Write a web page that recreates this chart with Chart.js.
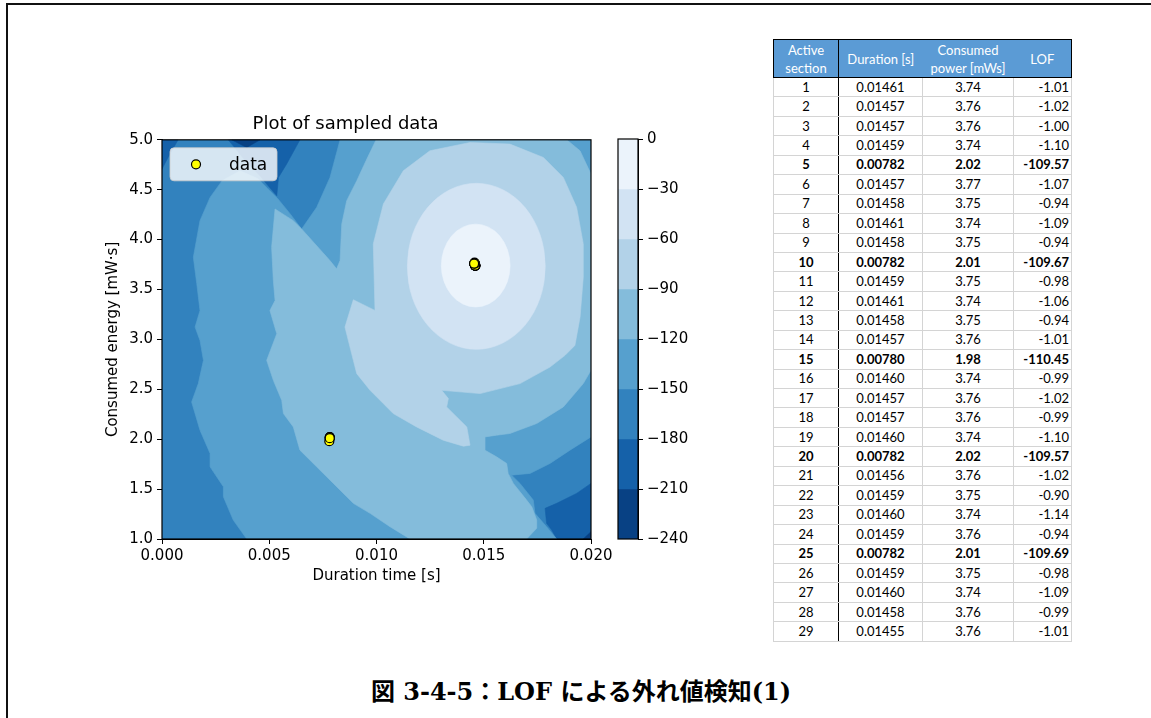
<!DOCTYPE html>
<html>
<head>
<meta charset="utf-8">
<script src="https://cdn.jsdelivr.net/npm/chart.js@4.4.1/dist/chart.umd.min.js"></script>
<style>
  body { margin: 0; width: 1151px; height: 718px; overflow: hidden; background: #fff; position: relative; }
  #frame { position: absolute; left: 6px; top: 3px; width: 1200px; height: 800px; border-left: 2px solid #111; border-top: 2px solid #111; }
  #mainChart { position: absolute; left: 0; top: 0; }
  #barChart { position: absolute; left: 600px; top: 100px; }
  #lofTable { position: absolute; left: 773px; top: 39px; border-collapse: collapse; border: 1px solid #000;
              font-family: "Lato", "Open Sans", sans-serif; font-size: 13px; color: #000; table-layout: fixed; }
  #lofTable th { background: #5b9bd5; color: #fff; font-weight: normal; line-height: 18px; height: 37px; padding: 0;
                 border-bottom: 1px solid #000; text-align: center; }
  #lofTable td { height: 18.45px; padding: 0 3px; border: 1px solid #d4d4d4; text-align: center; line-height: 17px; }
  #lofTable td.lof { text-align: right; padding-right: 2px; }
  #lofTable .sep { border-right: 1.5px solid #000 !important; }
  #lofTable tr.outlier td { font-weight: bold; }
  #caption { position: absolute; left: 281px; width: 600px; top: 672px; text-align: center;
             font-family: "DejaVu Serif", "Noto Sans CJK JP", serif; font-weight: bold; font-size: 24px; color: #000; }
</style>
</head>
<body>
<div id="frame"></div>
<canvas id="mainChart" width="620" height="600"></canvas>
<canvas id="barChart" width="120" height="460"></canvas>
<table id="lofTable"></table>
<div id="caption">図 3-4-5：LOF による外れ値検知(1)</div>

<script>
// sampled data (table on the right)
const sections = [1, 2, 3, 4, 5, 6, 7, 8, 9, 10, 11, 12, 13, 14, 15, 16, 17, 18, 19, 20, 21, 22, 23, 24, 25, 26, 27, 28, 29];
const durations = [0.01461, 0.01457, 0.01457, 0.01459, 0.00782, 0.01457, 0.01458, 0.01461, 0.01458, 0.00782,
                   0.01459, 0.01461, 0.01458, 0.01457, 0.00780, 0.01460, 0.01457, 0.01457, 0.01460, 0.00782,
                   0.01456, 0.01459, 0.01460, 0.01459, 0.00782, 0.01459, 0.01460, 0.01458, 0.01455];
const powers = [3.74, 3.76, 3.76, 3.74, 2.02, 3.77, 3.75, 3.74, 3.75, 2.01,
                3.75, 3.74, 3.75, 3.76, 1.98, 3.74, 3.76, 3.76, 3.74, 2.02,
                3.76, 3.75, 3.74, 3.76, 2.01, 3.75, 3.74, 3.76, 3.76];
const lofScores = [-1.01, -1.02, -1.00, -1.10, -109.57, -1.07, -0.94, -1.09, -0.94, -109.67,
                   -0.98, -1.06, -0.94, -1.01, -110.45, -0.99, -1.02, -0.99, -1.10, -109.57,
                   -1.02, -0.90, -1.14, -0.94, -109.69, -0.98, -1.09, -0.99, -1.01];

// contour levels (colorbar ticks) and band colours, top band first
const levelTicks = [0, -30, -60, -90, -120, -150, -180, -210, -240];
const bandColors = ["#ebf3fb", "#d2e3f3", "#b2d2e8", "#84bcdb", "#56a0ce", "#3282be", "#1561a9", "#084184"];
const baseLevel = 5; // -180 .. -150 fills the rest of the plot

// contour regions, [duration, energy]
const topTongue = [[0.00309, 5.0], [0.00643, 5.0], [0.00581, 4.757], [0.00543, 4.623], [0.00535, 4.44],
                   [0.00488, 4.557], [0.00457, 4.64], [0.00389, 4.79]];
const cornerTL = [[0, 5.0], [0.00075, 5.0], [0.00028, 4.823], [0, 4.707]];
const cornerBR = [[0.01786, 1.307], [0.01840, 1.357], [0.01933, 1.457], [0.02, 1.557], [0.02, 1.0],
                  [0.01840, 1.0], [0.01817, 1.09], [0.01793, 1.157]];
const topCore = [[0.00325, 5.0], [0.00457, 5.0], [0.00395, 4.923]];
const cornerBRCore = [[0.01964, 1.0], [0.02, 1.073], [0.02, 1.0]];
const above150 = [[0.00830, 5.0], [0.02, 5.0], [0.02, 2.023], [0.01902, 1.89], [0.01809, 1.757], [0.01716, 1.657],
                  [0.01630, 1.64], [0.01669, 1.557], [0.01731, 1.39], [0.01739, 1.257], [0.01793, 1.123], [0.01840, 1.0],
                  [0.00395, 1.0], [0.00332, 1.19], [0.00286, 1.423], [0.00286, 1.523], [0.00224, 1.723], [0.00224, 1.857],
                  [0.00177, 2.09], [0.00138, 2.373], [0.00169, 2.557], [0.00193, 2.79], [0.00177, 2.99], [0.00154, 3.123],
                  [0.00177, 3.29], [0.00162, 3.557], [0.00146, 3.823], [0.00177, 4.19], [0.00224, 4.423], [0.00280, 4.59],
                  [0.00364, 4.69], [0.00448, 4.61], [0.00494, 4.51], [0.00536, 4.42], [0.00597, 4.26], [0.00651, 4.107],
                  [0.00721, 4.323], [0.00783, 4.623]];
const above120 = [[0.00998, 5.0], [0.01887, 5.0], [0.01949, 4.89], [0.02, 4.657], [0.02, 2.69], [0.01964, 2.557],
                  [0.01871, 2.323], [0.01747, 2.157], [0.01622, 2.057], [0.01560, 2.04], [0.01506, 2.023], [0.01506, 1.89],
                  [0.01560, 1.823], [0.01607, 1.757], [0.01614, 1.657], [0.01638, 1.557], [0.01700, 1.39], [0.01724, 1.323],
                  [0.01747, 1.19], [0.01747, 1.107], [0.01700, 1.0], [0.01156, 1.0], [0.01063, 1.123], [0.00970, 1.257],
                  [0.00892, 1.357], [0.00799, 1.557], [0.00721, 1.723], [0.00643, 1.89], [0.00612, 2.123], [0.00566, 2.257],
                  [0.00558, 2.39], [0.00519, 2.59], [0.00488, 2.79], [0.00535, 3.057], [0.00503, 3.29], [0.00527, 3.39],
                  [0.00519, 3.59], [0.00511, 3.923], [0.00527, 4.307], [0.00612, 4.19], [0.00651, 4.107], [0.00783, 3.79],
                  [0.00814, 3.707], [0.00830, 3.79], [0.00838, 4.157], [0.00861, 4.39], [0.00908, 4.59], [0.00951, 4.79]];
const above90 = [[0.01436, 4.973], [0.01622, 4.957], [0.01778, 4.823], [0.01871, 4.623], [0.01933, 4.323], [0.01964, 3.957],
                 [0.01964, 3.623], [0.01949, 3.223], [0.01925, 2.94], [0.01879, 2.84], [0.01809, 2.723], [0.01669, 2.557],
                 [0.01483, 2.457], [0.01304, 2.49], [0.01335, 2.407], [0.01327, 2.323], [0.01421, 2.123], [0.01436, 1.94],
                 [0.01405, 1.93], [0.01311, 1.99], [0.01187, 2.123], [0.01078, 2.257], [0.00970, 2.49], [0.00908, 2.657],
                 [0.00892, 2.79], [0.00853, 3.123], [0.00892, 3.397], [0.00993, 3.29], [0.00985, 3.957], [0.01032, 4.357],
                 [0.01125, 4.69], [0.01249, 4.89]];
const above60 = [[0.01793, 3.732], [0.01768, 3.407], [0.01697, 3.132], [0.01591, 2.949], [0.01465, 2.884], [0.01340, 2.949],
                 [0.01234, 3.132], [0.01162, 3.407], [0.01138, 3.732], [0.01162, 4.057], [0.01234, 4.332], [0.01340, 4.515],
                 [0.01465, 4.58], [0.01591, 4.515], [0.01697, 4.332], [0.01768, 4.057]];
const above30 = [[0.01626, 3.74], [0.01613, 3.578], [0.01578, 3.441], [0.01525, 3.349], [0.01462, 3.317], [0.01400, 3.349],
                 [0.01347, 3.441], [0.01312, 3.578], [0.01299, 3.74], [0.01312, 3.902], [0.01347, 4.039], [0.01400, 4.131],
                 [0.01462, 4.163], [0.01525, 4.131], [0.01578, 4.039], [0.01613, 3.902]];

// draw order: darker patches first, then the nested lighter bands
const contourRegions = [
    { level: 6, points: topTongue },
    { level: 6, points: cornerTL },
    { level: 6, points: cornerBR },
    { level: 7, points: topCore },
    { level: 7, points: cornerBRCore },
    { level: 4, points: above150 },
    { level: 3, points: above120 },
    { level: 2, points: above90 },
    { level: 1, points: above60, smooth: true },
    { level: 0, points: above30, smooth: true }
];

Chart.defaults.font.family = "'DejaVu Sans', sans-serif";
Chart.defaults.color = "#000";

const tickFont = { size: 15 };

const contourPlugin = {
    id: "contour",
    beforeDatasetsDraw(chart) {
        const { ctx, chartArea: a, scales } = chart;
        ctx.save();
        ctx.beginPath();
        ctx.rect(a.left, a.top, a.width, a.height);
        ctx.clip();
        ctx.fillStyle = bandColors[baseLevel];
        ctx.fillRect(a.left, a.top, a.width, a.height);
        contourRegions.forEach(region => {
            const pts = region.points.map(p => [scales.x.getPixelForValue(p[0]), scales.y.getPixelForValue(p[1])]);
            ctx.beginPath();
            if (region.smooth) {
                const n = pts.length;
                const mid = (i, j) => [(pts[i][0] + pts[j][0]) / 2, (pts[i][1] + pts[j][1]) / 2];
                const start = mid(n - 1, 0);
                ctx.moveTo(start[0], start[1]);
                for (let i = 0; i < n; i++) {
                    const m = mid(i, (i + 1) % n);
                    ctx.quadraticCurveTo(pts[i][0], pts[i][1], m[0], m[1]);
                }
            } else {
                pts.forEach((p, i) => i ? ctx.lineTo(p[0], p[1]) : ctx.moveTo(p[0], p[1]));
            }
            ctx.closePath();
            ctx.fillStyle = bandColors[region.level];
            ctx.fill();
            ctx.strokeStyle = bandColors[region.level];
            ctx.lineWidth = 0.6;
            ctx.stroke();
        });
        ctx.restore();
    },
    afterDraw(chart) {
        const { ctx, chartArea: a } = chart;
        ctx.save();
        ctx.strokeStyle = "#000";
        ctx.lineWidth = 1.2;
        ctx.strokeRect(a.left, a.top, a.width, a.height);

        // legend box in the upper left corner
        const lx = a.left + 8, ly = a.top + 8, lw = 107, lh = 33, r = 4;
        ctx.beginPath();
        ctx.roundRect(lx, ly, lw, lh, r);
        ctx.fillStyle = "rgba(255,255,255,0.8)";
        ctx.fill();
        ctx.strokeStyle = "rgba(204,204,204,0.8)";
        ctx.lineWidth = 1;
        ctx.stroke();
        const ds = chart.data.datasets[0];
        ctx.beginPath();
        ctx.arc(lx + 26, ly + lh / 2, 4.5, 0, Math.PI * 2);
        ctx.fillStyle = ds.backgroundColor;
        ctx.fill();
        ctx.strokeStyle = ds.borderColor;
        ctx.lineWidth = 1.2;
        ctx.stroke();
        ctx.fillStyle = "#000";
        ctx.font = "17px 'DejaVu Sans'";
        ctx.textBaseline = "middle";
        ctx.fillText(ds.label, lx + 59, ly + lh / 2 + 1);
        ctx.restore();
    }
};

new Chart(document.getElementById("mainChart"), {
    type: "scatter",
    data: {
        datasets: [{
            label: "data",
            data: durations.map((d, i) => ({ x: d, y: powers[i] })),
            backgroundColor: "#ffff00",
            borderColor: "#000",
            borderWidth: 1.2,
            pointRadius: 4.5
        }]
    },
    options: {
        responsive: false,
        animation: false,
        layout: { padding: { left: 100, right: 29, top: 0, bottom: 10.6 } },
        plugins: {
            legend: { display: false },
            tooltip: { enabled: false },
            title: {
                display: true,
                text: "Plot of sampled data",
                font: { size: 18, weight: "normal" },
                padding: { top: 113.4, bottom: 4.8 }
            }
        },
        scales: {
            x: {
                type: "linear",
                min: 0,
                max: 0.02,
                afterFit: s => { s.height = 50.4; },
                ticks: { stepSize: 0.005, font: tickFont, padding: 3, callback: v => v.toFixed(3) },
                grid: { drawOnChartArea: false, tickLength: 5, color: "#000" },
                border: { color: "#000" },
                title: { display: true, text: "Duration time [s]", font: tickFont }
            },
            y: {
                min: 1,
                max: 5,
                afterFit: s => { s.width = 62; },
                ticks: { stepSize: 0.5, font: tickFont, padding: 4, callback: v => v.toFixed(1) },
                grid: { drawOnChartArea: false, tickLength: 5, color: "#000" },
                border: { color: "#000" },
                title: { display: true, text: "Consumed energy [mW·s]", font: tickFont }
            }
        }
    },
    plugins: [contourPlugin]
});

// colorbar as a stacked bar
const colorbarFrame = {
    id: "colorbarFrame",
    afterDraw(chart) {
        const { ctx, chartArea: a } = chart;
        ctx.save();
        ctx.strokeStyle = "#000";
        ctx.lineWidth = 1.2;
        ctx.strokeRect(a.left, a.top, a.width, a.height);
        ctx.restore();
    }
};

new Chart(document.getElementById("barChart"), {
    type: "bar",
    data: {
        labels: [""],
        datasets: bandColors.map((c, i) => ({
            data: [levelTicks[i + 1] - levelTicks[i]],
            backgroundColor: c,
            borderWidth: 0,
            barPercentage: 1,
            categoryPercentage: 1
        }))
    },
    options: {
        responsive: false,
        animation: false,
        layout: { padding: { left: 18, right: 22, top: 39, bottom: 21 } },
        plugins: { legend: { display: false }, tooltip: { enabled: false } },
        scales: {
            x: { stacked: true, display: false },
            y: {
                stacked: true,
                position: "right",
                min: -240,
                max: 0,
                afterFit: s => { s.width = 60; },
                ticks: { stepSize: 30, font: tickFont, padding: 4,
                         callback: v => v < 0 ? "\u2212" + Math.abs(v) : String(v) },
                grid: { drawOnChartArea: false, tickLength: 5, color: "#000" },
                border: { color: "#000" }
            }
        }
    },
    plugins: [colorbarFrame]
});

// table of sampled sections
const table = document.getElementById("lofTable");
let html = '<colgroup><col style="width:65px"><col style="width:84px"><col style="width:91px"><col style="width:58px"></colgroup>';
html += '<tr><th class="sep">Active<br>section</th><th>Duration [s]</th><th>Consumed<br>power [mWs]</th><th>LOF</th></tr>';
sections.forEach((s, i) => {
    const cls = lofScores[i] < -100 ? ' class="outlier"' : "";
    html += `<tr${cls}><td class="sep">${s}</td><td>${durations[i].toFixed(5)}</td>` +
            `<td>${powers[i].toFixed(2)}</td><td class="lof">${lofScores[i].toFixed(2)}</td></tr>`;
});
table.innerHTML = html;
</script>
</body>
</html>
